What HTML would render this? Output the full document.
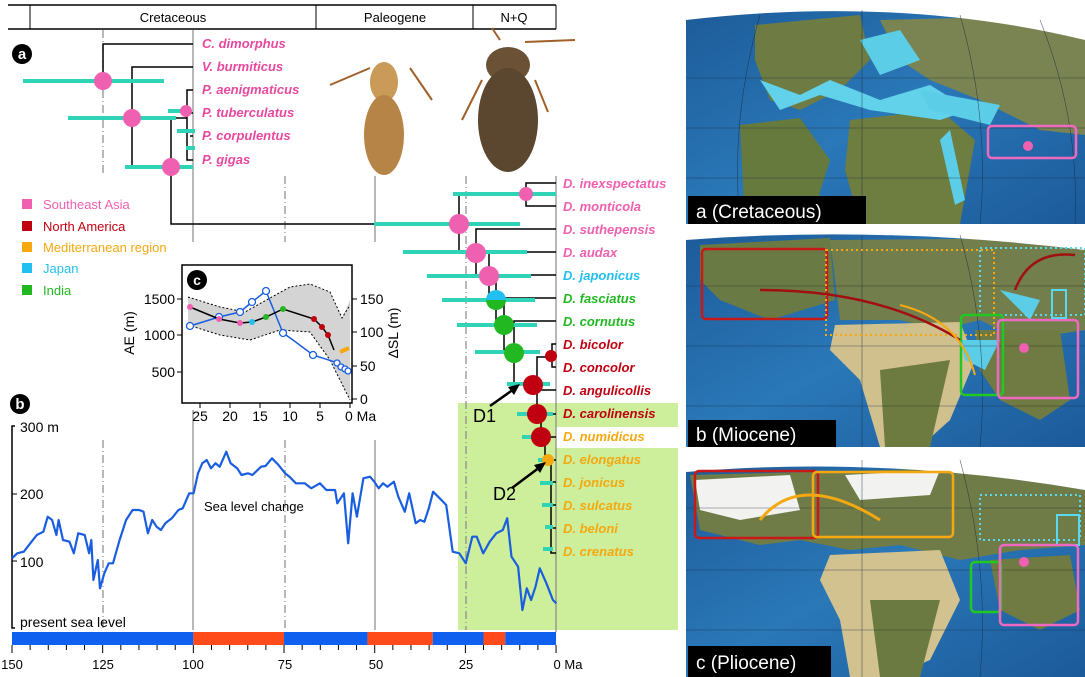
<!DOCTYPE html>
<html><head><meta charset="utf-8">
<style>
html,body{margin:0;padding:0;background:#fff;}
svg{display:block;font-family:"Liberation Sans",Arial,sans-serif;}
.sp{font-weight:bold;font-style:italic;font-size:13px;}
</style></head>
<body>
<svg id="s" width="1085" height="677" viewBox="0 0 1085 677" xmlns="http://www.w3.org/2000/svg">
<defs>
<linearGradient id="oc" x1="0" y1="0" x2="1" y2="1"><stop offset="0" stop-color="#1d5a98"/><stop offset="0.5" stop-color="#2a78b8"/><stop offset="1" stop-color="#1c5a9a"/></linearGradient>
<clipPath id="ca"><rect x="686" y="0" width="399" height="224"/></clipPath>
<clipPath id="cb"><rect x="686" y="227" width="399" height="220"/></clipPath>
<clipPath id="cc"><rect x="686" y="451" width="399" height="226"/></clipPath>
</defs>
<!-- green shaded -->
<rect x="458" y="403" width="220" height="227" fill="#cdee9a"/>
<rect x="556" y="427" width="122" height="21" fill="#fff"/>
<!-- top bar -->
<line x1="8" y1="5" x2="556" y2="5" stroke="#000" stroke-width="1.5"/>
<line x1="8" y1="29" x2="556" y2="29" stroke="#000" stroke-width="1.5"/>
<line x1="30" y1="5" x2="30" y2="29" stroke="#000"/><line x1="316" y1="5" x2="316" y2="29" stroke="#000"/><line x1="473" y1="5" x2="473" y2="29" stroke="#000"/><line x1="556" y1="5" x2="556" y2="29" stroke="#000"/>
<text x="173" y="22" font-size="13" text-anchor="middle">Cretaceous</text>
<text x="395" y="22" font-size="13" text-anchor="middle">Paleogene</text>
<text x="514" y="22" font-size="13" text-anchor="middle">N+Q</text>
<!-- time lines -->
<g stroke="#888" stroke-width="1.2" fill="none">
<line x1="103" y1="30" x2="103" y2="175" stroke-dasharray="8,3,1,3"/>
<line x1="193" y1="30" x2="193" y2="242"/>
<line x1="285" y1="176" x2="285" y2="242" stroke-dasharray="8,3,1,3"/>
<line x1="375" y1="176" x2="375" y2="242"/>
<line x1="466" y1="176" x2="466" y2="630" stroke-dasharray="8,3,1,3"/>
<line x1="556" y1="176" x2="556" y2="632"/>
<line x1="103" y1="440" x2="103" y2="630" stroke-dasharray="8,3,1,3"/>
<line x1="193" y1="410" x2="193" y2="630"/>
<line x1="285" y1="440" x2="285" y2="630" stroke-dasharray="8,3,1,3"/>
<line x1="375" y1="440" x2="375" y2="630"/>
</g>
<!-- top tree -->
<g stroke="#000" stroke-width="1.5" fill="none">
<polyline points="193,44 103,44 103,82"/>
<polyline points="193,67 132,67 132,167 171,167"/>
<polyline points="187,118 171,118 171,224 459,224"/>
<polyline points="193,90 187,90 187,160 193,160"/>
<line x1="190" y1="113" x2="193" y2="113"/><line x1="190" y1="136" x2="193" y2="136"/>
</g>
<g stroke="#2fd3b6" stroke-width="4">
<line x1="23" y1="81" x2="164" y2="81"/><line x1="68" y1="118" x2="176" y2="118"/><line x1="125" y1="167" x2="193" y2="167"/>
<line x1="168" y1="111" x2="190" y2="111"/><line x1="177" y1="131" x2="195" y2="131"/><line x1="186" y1="148" x2="195" y2="148"/>
</g>
<g fill="#f060b0"><circle cx="103" cy="81" r="9"/><circle cx="132" cy="118" r="9"/><circle cx="171" cy="167" r="9"/><circle cx="186" cy="111" r="6"/></g>
<g class="sp" fill="#e8489e">
<text x="202" y="48">C. dimorphus</text><text x="202" y="71">V. burmiticus</text><text x="202" y="94">P. aenigmaticus</text><text x="202" y="117">P. tuberculatus</text><text x="202" y="140">P. corpulentus</text><text x="202" y="164">P. gigas</text>
</g>
<!-- beetles -->
<g stroke="#a0602a" stroke-width="2" fill="none"><path d="M330,85 L370,68 M410,68 L432,100"/><path d="M500,40 L492,28 M525,42 L575,40"/><path d="M482,80 L462,120 M535,80 L548,112"/></g>
<ellipse cx="384" cy="82" rx="14" ry="20" fill="#c99a58"/>
<ellipse cx="384" cy="135" rx="20" ry="40" fill="#b68447"/>
<ellipse cx="508" cy="65" rx="22" ry="18" fill="#6b5236"/>
<ellipse cx="508" cy="120" rx="30" ry="52" fill="#5b4630"/>
<!-- legend -->
<g font-size="13">
<rect x="22" y="199" width="10" height="10" fill="#f060b0"/><text x="43" y="209" fill="#f060b0">Southeast Asia</text>
<rect x="22" y="221" width="10" height="10" fill="#c00010"/><text x="43" y="231" fill="#c00010">North America</text>
<rect x="22" y="242" width="10" height="10" fill="#f5a810"/><text x="43" y="252" fill="#f5a810">Mediterranean region</text>
<rect x="22" y="263" width="10" height="10" fill="#22c0f0"/><text x="43" y="273" fill="#22c0f0">Japan</text>
<rect x="22" y="285" width="10" height="10" fill="#22b822"/><text x="43" y="295" fill="#22b822">India</text>
</g>
<!-- Dinocanthus tree -->
<g stroke="#000" stroke-width="1.5" fill="none">
<polyline points="556,183 526,183 526,206 556,206"/>
<polyline points="526,195 459,195 459,252 476,252"/>
<polyline points="556,229 476,229 476,275 489,275"/>
<polyline points="556,252 489,252 489,299 496,299"/>
<polyline points="556,275 496,275 496,323 504,323"/>
<polyline points="556,298 504,298 504,352 514,352"/>
<polyline points="556,321 514,321 514,385 533,385"/>
<polyline points="556,344 552,344 552,367 556,367"/>
<polyline points="552,357 537,357 537,414"/>
<line x1="533" y1="390" x2="556" y2="390"/>
<line x1="537" y1="414" x2="556" y2="414"/>
<polyline points="541,414 541,437 556,437"/>
<polyline points="545,437 545,460 556,460"/>
<polyline points="551,460 551,553 556,553"/>
<line x1="551" y1="482" x2="556" y2="482"/><line x1="551" y1="505" x2="556" y2="505"/><line x1="551" y1="528" x2="556" y2="528"/>
</g>
<g stroke="#2fd3b6" stroke-width="4">
<line x1="453" y1="194" x2="556" y2="194"/><line x1="374" y1="224" x2="520" y2="224"/><line x1="403" y1="252" x2="527" y2="252"/>
<line x1="427" y1="276" x2="531" y2="276"/><line x1="442" y1="300" x2="535" y2="300"/><line x1="457" y1="325" x2="537" y2="325"/>
<line x1="475" y1="352" x2="540" y2="352"/><line x1="507" y1="384" x2="550" y2="384"/><line x1="517" y1="414" x2="553" y2="414"/>
<line x1="522" y1="437" x2="548" y2="437"/><line x1="538" y1="460" x2="552" y2="460"/><line x1="540" y1="483" x2="553" y2="483"/>
<line x1="542" y1="505" x2="553" y2="505"/><line x1="545" y1="527" x2="553" y2="527"/><line x1="543" y1="549" x2="553" y2="549"/>
</g>
<circle cx="526" cy="194" r="7" fill="#f060b0"/>
<circle cx="459" cy="224" r="10" fill="#f060b0"/>
<circle cx="476" cy="253" r="10" fill="#f060b0"/>
<circle cx="489" cy="276" r="10" fill="#f060b0"/>
<path d="M486,300 a10,10 0 0 1 20,0 z" fill="#22c0f0"/><path d="M486,300 a10,10 0 0 0 20,0 z" fill="#22b822"/>
<circle cx="504" cy="325" r="10" fill="#22b822"/>
<circle cx="514" cy="353" r="10" fill="#22b822"/>
<circle cx="551" cy="356" r="6" fill="#c00010"/>
<circle cx="533" cy="385" r="10" fill="#c00010"/>
<circle cx="537" cy="414" r="10" fill="#c00010"/>
<circle cx="541" cy="437" r="10" fill="#c00010"/>
<circle cx="548" cy="460" r="6" fill="#f5a810"/>
<g class="sp">
<text x="563" y="188" fill="#f060b0">D. inexspectatus</text><text x="563" y="211" fill="#f060b0">D. monticola</text><text x="563" y="234" fill="#f060b0">D. suthepensis</text><text x="563" y="257" fill="#f060b0">D. audax</text>
<text x="563" y="280" fill="#22c0f0">D. japonicus</text><text x="563" y="303" fill="#22b822">D. fasciatus</text><text x="563" y="326" fill="#22b822">D. cornutus</text>
<text x="563" y="349" fill="#c00010">D. bicolor</text><text x="563" y="372" fill="#c00010">D. concolor</text><text x="563" y="395" fill="#c00010">D. angulicollis</text><text x="563" y="418" fill="#c00010">D. carolinensis</text>
<text x="563" y="441" fill="#f5a810">D. numidicus</text><text x="563" y="464" fill="#f5a810">D. elongatus</text><text x="563" y="487" fill="#f5a810">D. jonicus</text><text x="563" y="510" fill="#f5a810">D. sulcatus</text><text x="563" y="533" fill="#f5a810">D. beloni</text><text x="563" y="556" fill="#f5a810">D. crenatus</text>
</g>
<text x="473" y="422" font-size="18">D1</text>
<line x1="490" y1="406" x2="514" y2="389" stroke="#000" stroke-width="2.5"/><path d="M520,384 L508,387 L514,395 Z"/>
<text x="493" y="500" font-size="18">D2</text>
<line x1="512" y1="488" x2="540" y2="467" stroke="#000" stroke-width="2.5"/><path d="M546,462 L534,465 L540,473 Z"/>
<!-- inset c -->
<path d="M188,297 L220,307 L245,312 L270,298 L290,287 L310,284 L330,292 L342,318 L350,300 L350,400 L330,360 L310,332 L280,330 L250,340 L220,335 L188,325 Z" fill="#d4d4d4"/>
<g fill="none" stroke="#000" stroke-dasharray="2,2"><polyline points="188,297 220,307 245,312 270,298 290,287 310,284 330,292 342,318 350,305"/><polyline points="188,325 220,335 250,340 280,330 310,332 330,360 350,400"/></g>
<polyline points="190,326 219,317 240,312 252,302 266,291 283,333 293,340 313,355 338,363 347,372" fill="none" stroke="#1a5ee0" stroke-width="1.5"/>
<g fill="#fff" stroke="#1a5ee0" stroke-width="1.3"><circle cx="190" cy="326" r="3.5"/><circle cx="219" cy="317" r="3.5"/><circle cx="240" cy="312" r="3.5"/><circle cx="252" cy="302" r="3.5"/><circle cx="266" cy="291" r="3.5"/><circle cx="283" cy="333" r="3.5"/><circle cx="313" cy="355" r="3.5"/><circle cx="337" cy="363" r="3"/><circle cx="341" cy="367" r="3"/><circle cx="345" cy="369" r="3"/><circle cx="348" cy="371" r="3"/></g>
<polyline points="190,307 219,319 240,323 252,322 266,317 283,309 314,319 322,327 328,335 334,350" fill="none" stroke="#000" stroke-width="1.5"/>
<circle cx="190" cy="307" r="3" fill="#f060b0"/><circle cx="219" cy="319" r="3" fill="#f060b0"/><circle cx="240" cy="323" r="3" fill="#f060b0"/><circle cx="252" cy="322" r="3" fill="#22c0f0"/><circle cx="266" cy="317" r="3" fill="#22b822"/><circle cx="283" cy="309" r="3" fill="#22b822"/><circle cx="314" cy="319" r="3" fill="#c00010"/><circle cx="322" cy="327" r="3" fill="#c00010"/><circle cx="328" cy="335" r="3" fill="#c00010"/>
<polyline points="340,352 349,348" stroke="#f5a810" stroke-width="4"/>
<rect x="182" y="265" width="170" height="138" fill="none" stroke="#000" stroke-width="1.5"/>
<g stroke="#000"><line x1="177" y1="299" x2="182" y2="299"/><line x1="177" y1="335" x2="182" y2="335"/><line x1="177" y1="372" x2="182" y2="372"/>
<line x1="352" y1="299" x2="357" y2="299"/><line x1="352" y1="332" x2="357" y2="332"/><line x1="352" y1="366" x2="357" y2="366"/><line x1="352" y1="399" x2="357" y2="399"/>
<line x1="200" y1="403" x2="200" y2="408"/><line x1="230" y1="403" x2="230" y2="408"/><line x1="260" y1="403" x2="260" y2="408"/><line x1="290" y1="403" x2="290" y2="408"/><line x1="320" y1="403" x2="320" y2="408"/><line x1="350" y1="403" x2="350" y2="408"/></g>
<g font-size="14">
<text x="175" y="304" text-anchor="end">1500</text><text x="175" y="340" text-anchor="end">1000</text><text x="175" y="377" text-anchor="end">500</text>
<text x="360" y="304">150</text><text x="360" y="337">100</text><text x="360" y="371">50</text><text x="360" y="404">0</text>
<text x="200" y="421" text-anchor="middle">25</text><text x="230" y="421" text-anchor="middle">20</text><text x="260" y="421" text-anchor="middle">15</text><text x="290" y="421" text-anchor="middle">10</text><text x="320" y="421" text-anchor="middle">5</text><text x="345" y="421">0 Ma</text>
<text transform="translate(134,333) rotate(-90)" text-anchor="middle">AE (m)</text>
<text transform="translate(398,333) rotate(-90)" text-anchor="middle">ΔSL (m)</text>
</g>
<circle cx="197" cy="280" r="10"/><text x="197" y="285" fill="#fff" font-size="14" font-weight="bold" text-anchor="middle">c</text>
<circle cx="22" cy="54" r="10"/><text x="22" y="59" fill="#fff" font-size="15" font-weight="bold" text-anchor="middle">a</text>
<circle cx="20" cy="404" r="10"/><text x="20" y="409" fill="#fff" font-size="15" font-weight="bold" text-anchor="middle">b</text>
<!-- panel b -->
<polyline points="15,426 12,426 12,628 15,628" fill="none" stroke="#000" stroke-width="1.5"/>
<line x1="12" y1="494" x2="17" y2="494" stroke="#000"/><line x1="12" y1="561" x2="17" y2="561" stroke="#000"/>
<g font-size="14"><text x="20" y="432">300 m</text><text x="20" y="499">200</text><text x="20" y="567">100</text><text x="20" y="627">present sea level</text></g>
<text x="204" y="511" font-size="13">Sea level change</text>
<polyline id="sl" fill="none" stroke="#1a5ee0" stroke-width="2.2" stroke-linejoin="round"/>
<g id="bar"></g>
<g id="ticks" stroke="#000"></g>
<g font-size="13" text-anchor="middle"><text x="12" y="669">150</text><text x="103" y="669">125</text><text x="193" y="669">100</text><text x="285" y="669">75</text><text x="376" y="669">50</text><text x="466" y="669">25</text><text x="568" y="669">0 Ma</text></g>
<!-- maps -->
<g clip-path="url(#ca)">
<rect x="686" y="0" width="399" height="224" fill="url(#oc)"/>
<path d="M755,25 L860,15 L870,60 L840,90 L800,110 L770,100 L755,60 Z" fill="#6e7c44"/>
<path d="M880,20 L1085,15 L1085,135 L1040,130 L980,100 L930,80 L900,60 Z" fill="#7a8452"/>
<path d="M850,120 L940,110 L975,140 L960,224 L860,224 L845,170 Z" fill="#6e7d40"/>
<path d="M740,125 L800,118 L830,160 L810,224 L745,224 Z" fill="#667a3e"/>
<path d="M760,80 L800,95 L830,80 L880,100 L930,85 L970,110 L940,120 L870,110 L820,95 L780,110 Z" fill="#62d2ea"/>
<path d="M860,40 L900,30 L920,60 L880,75 Z M920,90 L1000,105 L990,125 L930,110 Z M950,130 L965,200 L955,205 L940,140 Z" fill="#5ccde6"/>
<path d="M686,0 L1085,0 L1085,40 Q900,-5 686,20 Z" fill="#fff"/>
<g stroke="#1a2a3a" stroke-width="0.6" fill="none" opacity="0.7"><path d="M686,78 L1085,78 M686,128 L1085,128 M686,178 L1085,178 M862,10 L862,224 M760,15 Q730,120 740,224 M960,15 Q990,120 980,224 M1040,20 Q1080,120 1075,224"/></g>
<rect x="988" y="126" width="88" height="32" rx="4" fill="none" stroke="#ee6ac0" stroke-width="2.5"/><circle cx="1028" cy="146" r="5" fill="#f060b0"/>
<rect x="688" y="196" width="178" height="28" fill="#000"/><text x="696" y="218" fill="#fff" font-size="19">a (Cretaceous)</text>
</g>
<g clip-path="url(#cb)">
<rect x="686" y="227" width="399" height="220" fill="url(#oc)"/>
<path d="M700,245 L830,238 L835,300 L770,320 L720,300 L700,280 Z" fill="#6a7a44"/>
<path d="M830,240 L1085,238 L1085,330 L1020,340 L980,320 L940,330 L900,320 L840,320 Z" fill="#727e4c"/>
<path d="M835,325 L960,322 L975,360 L950,420 L920,447 L880,447 L860,380 L830,350 Z" fill="#cfc08e"/>
<path d="M880,370 L950,360 L930,447 L885,447 Z" fill="#6d7a40"/>
<path d="M975,330 L1060,330 L1070,400 L1040,420 L1000,400 L980,370 Z" fill="#6f7b42"/>
<path d="M960,340 L1000,340 L985,370 L965,360 Z M1000,290 L1040,300 L1030,320 Z" fill="#5ccde6"/>
<path d="M686,227 L1085,227 L1085,250 Q880,225 686,240 Z" fill="#fff"/>
<g stroke="#1a2a3a" stroke-width="0.6" fill="none" opacity="0.7"><path d="M686,286 L1085,286 M686,346 L1085,346 M686,406 L1085,406 M862,235 L862,447 M960,235 Q990,340 980,447"/></g>
<rect x="702" y="249" width="125" height="70" rx="4" fill="none" stroke="#c81818" stroke-width="2.5"/>
<rect x="826" y="250" width="168" height="85" fill="none" stroke="#f5a810" stroke-width="2" stroke-dasharray="2,3"/>
<rect x="980" y="248" width="105" height="67" fill="none" stroke="#5ad8f0" stroke-width="2" stroke-dasharray="2,3"/>
<rect x="961" y="315" width="42" height="80" rx="4" fill="none" stroke="#22c822" stroke-width="2.5"/>
<rect x="998" y="320" width="80" height="78" rx="4" fill="none" stroke="#ee6ac0" stroke-width="2.5"/>
<rect x="1052" y="290" width="14" height="28" fill="none" stroke="#5ad8f0" stroke-width="2"/>
<path d="M960,340 Q880,290 760,290" fill="none" stroke="#a01010" stroke-width="2.5"/><path d="M975,375 Q960,320 900,305" fill="none" stroke="#f5a810" stroke-width="2"/>
<path d="M1015,290 Q1030,250 1075,255" fill="none" stroke="#a01010" stroke-width="2.5"/>
<circle cx="1024" cy="348" r="5" fill="#f060b0"/>
<rect x="688" y="420" width="148" height="27" fill="#000"/><text x="696" y="441" fill="#fff" font-size="19">b (Miocene)</text>
</g>
<g clip-path="url(#cc)">
<rect x="686" y="451" width="399" height="226" fill="url(#oc)"/>
<path d="M690,475 L960,468 L1085,470 L1085,545 L1020,550 L960,560 L900,545 L850,550 L800,540 L760,545 L700,530 Z" fill="#707c48"/>
<path d="M695,480 L790,475 L800,510 L740,520 L700,510 Z M845,475 L940,470 L930,495 L860,500 Z" fill="#f2f2f0"/>
<path d="M830,555 L940,550 L960,600 L930,660 L890,677 L850,677 L840,620 L820,580 Z" fill="#d2c290"/>
<path d="M870,600 L940,600 L920,677 L880,677 Z" fill="#6b7a40"/>
<path d="M990,560 L1070,555 L1080,610 L1040,630 L1000,610 Z" fill="#6f7b42"/>
<path d="M686,451 L1085,451 L1085,490 Q880,455 686,472 Z" fill="#fff"/>
<g stroke="#1a2a3a" stroke-width="0.6" fill="none" opacity="0.7"><path d="M686,508 L1085,508 M686,570 L1085,570 M686,630 L1085,630 M862,460 L862,677 M960,460 Q990,570 980,677"/></g>
<rect x="695" y="471" width="123" height="67" rx="4" fill="none" stroke="#c81818" stroke-width="2.5"/>
<rect x="813" y="472" width="140" height="65" rx="4" fill="none" stroke="#f5a810" stroke-width="2.5"/>
<path d="M760,520 Q800,470 880,520" fill="none" stroke="#f5a810" stroke-width="3"/>
<rect x="980" y="495" width="100" height="45" fill="none" stroke="#5ad8f0" stroke-width="2" stroke-dasharray="2,3"/>
<rect x="1057" y="515" width="22" height="30" fill="none" stroke="#5ad8f0" stroke-width="2"/>
<rect x="971" y="562" width="30" height="50" rx="4" fill="none" stroke="#22c822" stroke-width="2.5"/>
<rect x="1000" y="545" width="78" height="80" rx="4" fill="none" stroke="#ee6ac0" stroke-width="2.5"/>
<circle cx="1024" cy="562" r="5" fill="#f060b0"/>
<rect x="688" y="646" width="143" height="31" fill="#000"/><text x="696" y="669" fill="#fff" font-size="19">c (Pliocene)</text>
</g>
</svg>
<script>
var z=[[28,655],[40,640],[55,635],[70,610],[85,585],[100,575],[110,530],[120,540],[130,585],[135,540],[145,600],[160,605],[170,640],[180,580],[195,585],[205,640],[210,600],[215,720],[225,660],[230,745],[240,700],[250,670],[260,670],[275,600],[290,540],[305,510],[320,510],[330,515],[340,580],[350,540],[360,560],[370,570],[380,550],[395,535],[410,510],[420,505],[435,460],[445,460],[455,400],[465,370],[475,360],[485,385],[495,370],[505,380],[515,350],[520,335],[530,370],[545,385],[555,405],[570,400],[580,405],[600,380],[610,378],[625,355],[640,375],[655,400],[665,410],[680,430],[700,430],[715,445],[735,430],[750,450],[770,450],[775,490],[790,460],[800,610],[810,460],[820,530],[835,415],[850,410],[860,425],[870,445],[880,430],[890,440],[905,425],[915,470],[930,515],[940,460],[955,550],[965,540],[975,545],[985,505],[995,455],[1010,475],[1025,495],[1040,635],[1055,640],[1070,670],[1085,590],[1095,590],[1110,640],[1125,605],[1140,580],[1155,570],[1165,535],[1175,650],[1190,680],[1200,810],[1210,745],[1220,780],[1230,740],[1240,685],[1255,730],[1270,780],[1278,790]];
document.getElementById('sl').setAttribute('points',z.map(function(p){return (12+(p[0]-28)*0.4355).toFixed(1)+','+(340+p[1]/3).toFixed(1);}).join(' '));
function X(m){return 12+(150-m)*3.627;}
var seg=[[150,100,'#1060f0'],[100,75,'#ff4a1a'],[75,52,'#1060f0'],[52,34,'#ff4a1a'],[34,20,'#1060f0'],[20,14,'#ff4a1a'],[14,0,'#1060f0']];
var ns='http://www.w3.org/2000/svg',b=document.getElementById('bar'),t=document.getElementById('ticks');
seg.forEach(function(s){var r=document.createElementNS(ns,'rect');r.setAttribute('x',X(s[0]));r.setAttribute('y',632);r.setAttribute('width',X(s[1])-X(s[0]));r.setAttribute('height',13);r.setAttribute('fill',s[2]);b.appendChild(r);});
for(var m=0;m<=150;m+=5){var l=document.createElementNS(ns,'line');l.setAttribute('x1',X(m));l.setAttribute('x2',X(m));l.setAttribute('y1',645);l.setAttribute('y2',m%25==0?653:650);t.appendChild(l);}
</script>
</body></html>
